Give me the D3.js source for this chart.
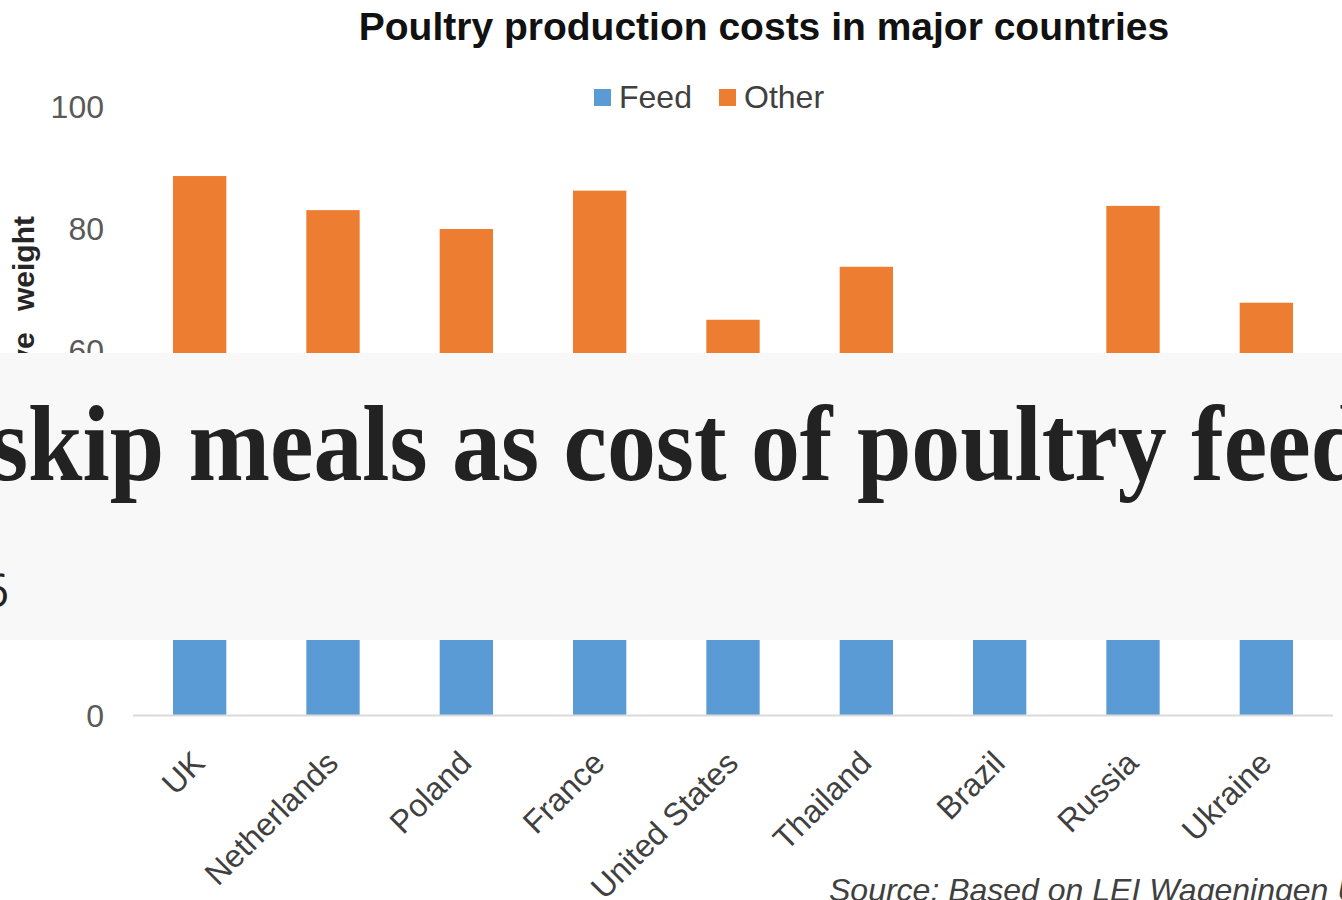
<!DOCTYPE html>
<html>
<head>
<meta charset="utf-8">
<script src="https://cdn.jsdelivr.net/npm/d3@7"></script>
<style>
  html, body { margin: 0; padding: 0; background: #ffffff; overflow: hidden; }
  svg { display: block; }
</style>
</head>
<body>
<svg id="chart" width="1342" height="900"></svg>
<script>
// Poultry production costs per country, split into feed and other costs
const countries = ["UK", "Netherlands", "Poland", "France", "United States", "Thailand", "Brazil", "Russia", "Ukraine"];
const feedCost  = [58, 56, 57, 57, 44, 51, 41, 56, 46];
const otherCost = [30.5, 26.9, 22.8, 29.1, 20.9, 22.6, 18.1, 27.6, 21.7];
const seriesNames = ["Feed", "Other"];
const seriesColors = ["#5b9bd5", "#ed7d31"];
const yTicks = [0, 20, 40, 60, 80, 100];

const chartTitle = "Poultry production costs in major countries";
const yAxisTitleParts = ["Cost per 100 kg live", "weight"];
const sourceNote = "Source: Based on LEI Wageningen UR";
const headline = "skip meals as cost of poultry feed";
const dateStub = "2016";

const rows = countries.map((c, i) => ({ country: c, Feed: feedCost[i], Other: otherCost[i] }));

const svg = d3.select("#chart");

const x = d3.scaleBand().domain(countries).range([133, 1333]).paddingInner(0.6).paddingOuter(0.3);
const y = d3.scaleLinear().domain([0, 100]).range([715, 106]);
const color = d3.scaleOrdinal().domain(seriesNames).range(seriesColors);

// title
svg.append("text")
  .attr("x", 764).attr("y", 40)
  .attr("text-anchor", "middle")
  .style("font-family", "'Liberation Sans', Arial, sans-serif")
  .style("font-weight", "bold")
  .style("font-size", "39px")
  .style("fill", "#111")
  .text(chartTitle);

// legend
const legend = svg.append("g");
const legendPos = [{ sx: 594, tx: 619 }, { sx: 719, tx: 744 }];
seriesNames.forEach((name, i) => {
  legend.append("rect")
    .attr("x", legendPos[i].sx).attr("y", 89)
    .attr("width", 17).attr("height", 17)
    .attr("fill", color(name));
  legend.append("text")
    .attr("x", legendPos[i].tx).attr("y", 108)
    .style("font-family", "'Liberation Sans', Arial, sans-serif")
    .style("font-size", "32px")
    .style("fill", "#404040")
    .text(name);
});

// y axis labels (no line, no ticks)
const yAxis = d3.axisLeft(y).tickValues(yTicks).tickSize(0).tickPadding(0);
const yg = svg.append("g").attr("transform", "translate(104,0)").call(yAxis);
yg.select(".domain").remove();
yg.selectAll("text")
  .attr("dy", "0.36em")
  .style("font-family", "'Liberation Sans', Arial, sans-serif")
  .style("font-size", "32px")
  .style("fill", "#595959");

// y axis title
const yTitle = svg.append("text")
  .attr("transform", "translate(34,216) rotate(-90)")
  .attr("text-anchor", "end")
  .style("font-family", "'Liberation Sans', Arial, sans-serif")
  .style("font-weight", "bold")
  .style("font-size", "30px")
  .style("fill", "#262626");
yTitle.append("tspan").text(yAxisTitleParts[0]);
yTitle.append("tspan").attr("dx", 13).text(" " + yAxisTitleParts[1]);

// stacked bars
const stacked = d3.stack().keys(seriesNames)(rows);
svg.append("g").selectAll("g")
  .data(stacked)
  .join("g")
  .attr("fill", d => color(d.key))
  .selectAll("rect")
  .data(d => d)
  .join("rect")
  .attr("x", d => x(d.data.country))
  .attr("width", x.bandwidth())
  .attr("y", d => y(d[1]))
  .attr("height", d => y(d[0]) - y(d[1]));

// category axis line
svg.append("line")
  .attr("x1", 133).attr("x2", 1333)
  .attr("y1", y(0) + 0.5).attr("y2", y(0) + 0.5)
  .attr("stroke", "#d9d9d9").attr("stroke-width", 2);

// rotated category labels
svg.append("g").selectAll("text")
  .data(countries)
  .join("text")
  .attr("transform", d => `translate(${x(d) + x.bandwidth() / 2 + 7},765) rotate(-45)`)
  .attr("text-anchor", "end")
  .style("font-family", "'Liberation Sans', Arial, sans-serif")
  .style("font-size", "32px")
  .style("fill", "#404040")
  .text(d => d);

// source note
svg.append("text")
  .attr("x", 829).attr("y", 901)
  .style("font-family", "'Liberation Sans', Arial, sans-serif")
  .style("font-style", "italic")
  .style("font-size", "32px")
  .style("fill", "#404040")
  .text(sourceNote);

// headline banner laid over the chart
const banner = svg.append("g");
banner.append("rect")
  .attr("x", 0).attr("y", 353)
  .attr("width", 1342).attr("height", 287)
  .attr("fill", "#f8f8f8");
banner.append("text")
  .attr("x", -10).attr("y", 480)
  .attr("textLength", 1375)
  .attr("lengthAdjust", "spacingAndGlyphs")
  .style("font-family", "'Liberation Serif', 'DejaVu Serif', serif")
  .style("font-weight", "bold")
  .style("font-size", "108px")
  .style("fill", "#222")
  .text(headline);
banner.append("text")
  .attr("x", 9).attr("y", 607)
  .attr("text-anchor", "end")
  .style("font-family", "'Open Sans', sans-serif")
  .style("font-size", "46px")
  .style("fill", "#222")
  .text(dateStub);
</script>
</body>
</html>
